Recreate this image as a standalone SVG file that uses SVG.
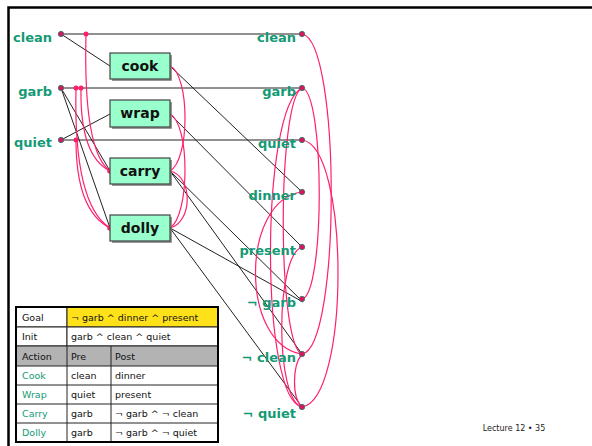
<svg xmlns="http://www.w3.org/2000/svg" width="592" height="446" viewBox="0 0 592 446">
<style>
.lbl{font-family:"DejaVu Sans",Verdana,sans-serif;font-weight:bold;font-size:13px;fill:#139a74;text-anchor:end}
.act{font-family:"DejaVu Sans",Verdana,sans-serif;font-weight:bold;font-size:14px;fill:#111;text-anchor:middle}
.box{fill:#99ffcc;stroke:#444;stroke-width:1.2}
.shd{fill:none;stroke:#777;stroke-width:1.5}
.ln{stroke:#222;stroke-width:1;fill:none}
.mx{stroke:#ff1f6e;stroke-width:1.2;fill:none}
.dot{fill:#d8155e;stroke:#2a7a66;stroke-width:0.8}
.pd{fill:#ff1f6e}
.tt{font-family:"DejaVu Sans",Verdana,sans-serif;font-size:9.5px;fill:#111}
.tg{font-family:"DejaVu Sans",Verdana,sans-serif;font-size:9.5px;fill:#139a74}
.cell{fill:#fff;stroke:#222;stroke-width:1}
</style>
<rect width="592" height="446" fill="#fff"/>
<path d="M8.5,446 V7.5 H592" fill="none" stroke="#000" stroke-width="2.5"/>

<g id="connectors">
  <line class="ln" x1="61" y1="34" x2="302" y2="34"/>
  <line class="ln" x1="61" y1="88" x2="302" y2="88"/>
  <line class="ln" x1="61" y1="140" x2="302" y2="140"/>
  <line class="ln" x1="61" y1="34" x2="110" y2="66"/>
  <line class="ln" x1="61" y1="140" x2="110" y2="114"/>
  <line class="ln" x1="61" y1="88" x2="110" y2="171"/>
  <line class="ln" x1="61" y1="88" x2="110" y2="228"/>
  <line class="ln" x1="170" y1="66" x2="302" y2="192"/>
  <line class="ln" x1="170" y1="114" x2="302" y2="247"/>
  <line class="ln" x1="170" y1="171" x2="303" y2="302"/>
  <line class="ln" x1="170" y1="171" x2="302" y2="354"/>
  <line class="ln" x1="170" y1="228" x2="303" y2="302"/>
  <line class="ln" x1="170" y1="228" x2="302" y2="407"/>
  <path class="mx" d="M86,34 C84,115 92,158 110,171"/>
  <path class="mx" d="M81,88 C80,138 92,162 110,171"/>
  <path class="mx" d="M76,88 C74,175 88,214 110,228"/>
  <path class="mx" d="M76,140 C76,192 90,218 110,228"/>
  <path class="mx" d="M170,66 C190,75 190,160 170,171"/>
  <path class="mx" d="M170,114 C190,124 190,215 170,228"/>
  <path class="mx" d="M170,171 C193,176 193,222 170,228"/>
  <path class="mx" d="M302,34 C341,40 341,348 302,354"/>
  <path class="mx" d="M302,140 C350,146 350,400 302,407"/>
  <path class="mx" d="M302,88 C325,92 325,295 302,299"/>
  <path class="mx" d="M302,88 C260,108 260,400 302,407"/>
  <path class="mx" d="M302,88 C277,100 277,345 302,354"/>
  <path class="mx" d="M302,192 C240,200 240,345 302,354"/>
  <path class="mx" d="M302,247 C275,256 275,400 302,407"/>
  <path class="mx" d="M302,354 C292,366 292,398 302,407"/>
  <circle class="pd" cx="86" cy="34" r="2.5"/>
  <circle class="pd" cx="76" cy="88" r="2.5"/>
  <circle class="pd" cx="81" cy="88" r="2.5"/>
  <circle class="pd" cx="76" cy="140" r="2.5"/>
  <circle class="pd" cx="110" cy="171" r="2.8"/>
  <circle class="pd" cx="110" cy="228" r="2.8"/>
</g>

<g id="fact0-clean"><circle class="dot" cx="61" cy="34" r="2.7"/><text class="lbl" x="52" y="42">clean</text></g>
<g id="fact0-garb"><circle class="dot" cx="61" cy="88" r="2.7"/><text class="lbl" x="52" y="96">garb</text></g>
<g id="fact0-quiet"><circle class="dot" cx="61" cy="140" r="2.7"/><text class="lbl" x="52" y="147">quiet</text></g>

<g id="act-cook"><path class="shd" d="M171,55 V80 H112"/><rect class="box" x="110" y="53" width="60" height="26"/><text class="act" x="140" y="71">cook</text></g>
<g id="act-wrap"><path class="shd" d="M171,102 V128 H112"/><rect class="box" x="110" y="100" width="60" height="27"/><text class="act" x="140" y="118">wrap</text></g>
<g id="act-carry"><path class="shd" d="M171,160 V185 H112"/><rect class="box" x="110" y="158" width="60" height="26"/><text class="act" x="140" y="176">carry</text></g>
<g id="act-dolly"><path class="shd" d="M171,217 V242 H112"/><rect class="box" x="110" y="215" width="60" height="26"/><text class="act" x="140" y="233">dolly</text></g>

<g id="fact1-clean"><circle class="dot" cx="302" cy="34" r="2.7"/><text class="lbl" x="296" y="42">clean</text></g>
<g id="fact1-garb"><circle class="dot" cx="302" cy="88" r="2.7"/><text class="lbl" x="296" y="96">garb</text></g>
<g id="fact1-quiet"><circle class="dot" cx="302" cy="140" r="2.7"/><text class="lbl" x="296" y="148">quiet</text></g>
<g id="fact1-dinner"><circle class="dot" cx="302" cy="192" r="2.7"/><text class="lbl" x="296" y="200">dinner</text></g>
<g id="fact1-present"><circle class="dot" cx="302" cy="247" r="2.7"/><text class="lbl" x="296" y="255">present</text></g>
<g id="fact1-notgarb"><circle class="dot" cx="302" cy="299" r="2.7"/><text class="lbl" x="296" y="307">¬ garb</text></g>
<g id="fact1-notclean"><circle class="dot" cx="302" cy="354" r="2.7"/><text class="lbl" x="296" y="362">¬ clean</text></g>
<g id="fact1-notquiet"><circle class="dot" cx="302" cy="407" r="2.7"/><text class="lbl" x="296" y="418">¬ quiet</text></g>

<g id="table">
  <rect class="cell" x="16" y="307" width="51" height="20"/>
  <rect x="67" y="307" width="151" height="20" fill="#ffe11a" stroke="#222"/>
  <rect class="cell" x="16" y="327" width="51" height="19"/>
  <rect class="cell" x="67" y="327" width="151" height="19"/>
  <rect x="16" y="346" width="202" height="20" fill="#b3b3b3" stroke="#222"/>
  <line x1="67" y1="346" x2="67" y2="442" stroke="#222"/>
  <line x1="111" y1="346" x2="111" y2="442" stroke="#222"/>
  <line x1="16" y1="385" x2="218" y2="385" stroke="#222"/>
  <line x1="16" y1="404" x2="218" y2="404" stroke="#222"/>
  <line x1="16" y1="423" x2="218" y2="423" stroke="#222"/>
  <rect x="16" y="307" width="202" height="135" fill="none" stroke="#000" stroke-width="2"/>
  <text class="tt" x="22" y="321">Goal</text>
  <text class="tt" x="71" y="321">¬ garb ^ dinner ^ present</text>
  <text class="tt" x="22" y="340">Init</text>
  <text class="tt" x="71" y="340">garb ^ clean ^ quiet</text>
  <text class="tt" x="22" y="360">Action</text>
  <text class="tt" x="71" y="360">Pre</text>
  <text class="tt" x="115" y="360">Post</text>
  <text class="tg" x="22" y="379">Cook</text>
  <text class="tt" x="71" y="379">clean</text>
  <text class="tt" x="115" y="379">dinner</text>
  <text class="tg" x="22" y="398">Wrap</text>
  <text class="tt" x="71" y="398">quiet</text>
  <text class="tt" x="115" y="398">present</text>
  <text class="tg" x="22" y="417">Carry</text>
  <text class="tt" x="71" y="417">garb</text>
  <text class="tt" x="115" y="417">¬ garb ^ ¬ clean</text>
  <text class="tg" x="22" y="436">Dolly</text>
  <text class="tt" x="71" y="436">garb</text>
  <text class="tt" x="115" y="436">¬ garb ^ ¬  quiet</text>
</g>

<text x="514" y="431" text-anchor="middle" font-family="DejaVu Sans, Verdana, sans-serif" font-size="8" fill="#222">Lecture 12 • 35</text>
</svg>
